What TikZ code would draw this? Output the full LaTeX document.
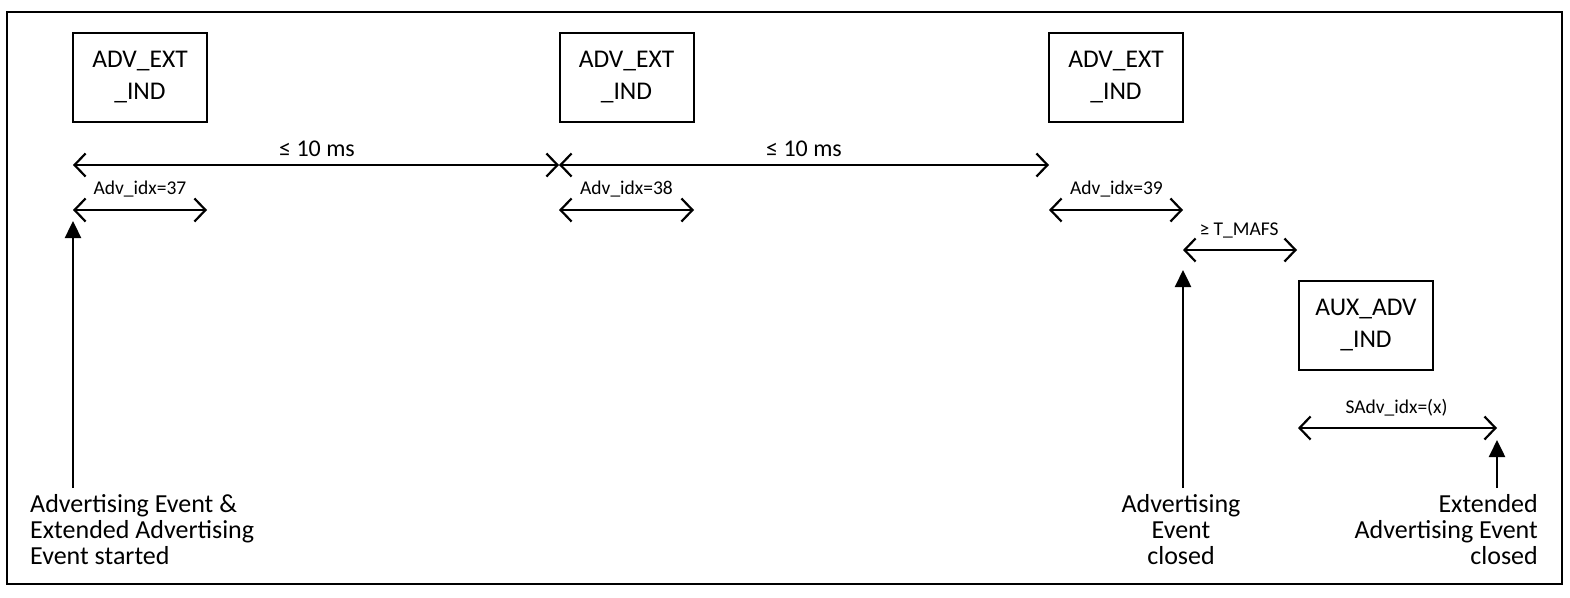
\documentclass[tikz,border=0pt]{standalone}
\usepackage{fontspec}
\setmainfont{Carlito}
\usetikzlibrary{arrows.meta}
\begin{document}
\begin{tikzpicture}[x=1pt,y=-1pt,
  box/.style={draw, line width=2pt, minimum width=134pt, minimum height=89pt, inner sep=0pt, align=center, font=\fontsize{25.5}{32}\selectfont},
  dim/.style={line width=2.4pt, {Straight Barb[length=11pt,width=23pt,line width=2.2pt]}-{Straight Barb[length=11pt,width=23pt,line width=2.2pt]}},
  up/.style={line width=2.4pt, -{Triangle[length=17pt,width=16pt]}},
  lbl/.style={anchor=base, inner sep=0pt, font=\fontsize{19.5}{22}\selectfont},
  big/.style={anchor=base, inner sep=0pt, font=\fontsize{24}{28}\selectfont},
  note/.style={inner sep=0pt, font=\fontsize{26}{26}\selectfont}
]
\useasboundingbox (0,0) rectangle (1570,597);
\draw[line width=2.5pt] (7,12) rectangle (1562,584);

% boxes
\node[box] (b1) at (140,77) {ADV\_EXT\\\_IND};
\node[box] (b2) at (626.5,77) {ADV\_EXT\\\_IND};
\node[box] (b3) at (1116,77) {ADV\_EXT\\\_IND};
\node[box] (b4) at (1366,325) {AUX\_ADV\\\_IND};

% coordinates
\coordinate (m1) at (73,165);
\coordinate (m2) at (559,165);
\coordinate (m3) at (1049,165);
\coordinate (s1a) at (73,210);   \coordinate (s1b) at (207,210);
\coordinate (s2a) at (559,210);  \coordinate (s2b) at (694,210);
\coordinate (s3a) at (1049,210); \coordinate (s3b) at (1183,210);
\coordinate (ta) at (1183,250);  \coordinate (tb) at (1297,250);
\coordinate (xa) at (1298,428);  \coordinate (xb) at (1497,428);
\coordinate (u1a) at (73,488);   \coordinate (u1b) at (73,221);
\coordinate (u2a) at (1183,488); \coordinate (u2b) at (1183,270);
\coordinate (u3a) at (1497,488); \coordinate (u3b) at (1497,440);

% dimension arrows
\draw[dim] (m1) -- (m2);
\draw[dim] (m2) -- (m3);
\draw[dim] (s1a) -- (s1b);
\draw[dim] (s2a) -- (s2b);
\draw[dim] (s3a) -- (s3b);
\draw[dim] (ta) -- (tb);
\draw[dim] (xa) -- (xb);

% up arrows
\draw[up] (u1a) -- (u1b);
\draw[up] (u2a) -- (u2b);
\draw[up] (u3a) -- (u3b);

% labels
\node[big] (l1) at (317,156) {≤ 10 ms};
\node[big] (l2) at (804,156) {≤ 10 ms};
\node[lbl] (i1) at (140,194) {Adv\_idx=37};
\node[lbl] (i2) at (626.5,194) {Adv\_idx=38};
\node[lbl] (i3) at (1116.5,194) {Adv\_idx=39};
\node[lbl] (tm) at (1239,235) {≥ T\_MAFS};
\node[lbl] (sx) at (1396.5,413) {SAdv\_idx=(x)};

% notes
\node[note, anchor=north west, align=left] (n1) at (30,494) {Advertising Event \&\\Extended Advertising\\Event started};
\node[note, anchor=north, align=center] (n2) at (1181,494) {Advertising\\Event\\closed};
\node[note, anchor=north east, align=right] (n3) at (1538,494) {Extended\\Advertising Event\\closed};
\end{tikzpicture}
\end{document}
